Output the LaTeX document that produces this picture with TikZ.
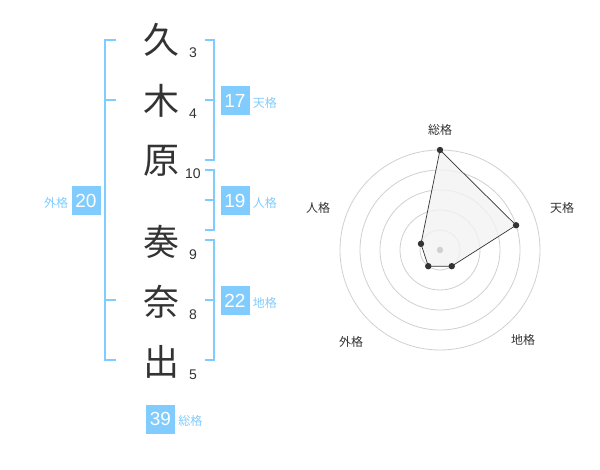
\documentclass[tikz,border=0pt]{standalone}
\usepackage{fontspec}
\setmainfont{Liberation Sans}
\newfontfamily\cjk{Noto Sans CJK JP}
\definecolor{kblue}{HTML}{80CCFF}
\definecolor{ktext}{HTML}{333333}
\definecolor{kring}{HTML}{D0D0D0}
\tikzset{
  bracket/.style={kblue, line width=2pt},
  kanji/.style={text=ktext, font=\cjk\fontsize{36}{36}\selectfont, inner sep=0pt},
  stroke/.style={text=ktext, font=\fontsize{14}{14}\selectfont, inner sep=0pt},
  scorebox/.style={fill=kblue, text=white, minimum size=29pt, inner sep=0pt, font=\fontsize{19}{19}\selectfont},
  tag/.style={text=kblue, font=\cjk\fontsize{12}{12}\selectfont, inner sep=3pt, yshift=-2pt},
  axislabel/.style={text=ktext, font=\cjk\fontsize{12}{12}\selectfont, inner sep=0pt}
}
\begin{document}
\begin{tikzpicture}[x=1pt, y=-1pt]
\useasboundingbox (0,0) rectangle (600,470);
% name and stroke counts
\foreach \ch/\y/\n/\k in {久/40/3/1, 木/101/4/2, 原/161/10/3, 奏/242/9/4, 奈/302/8/5, 出/362/5/6} {
  \node (c\k) [kanji] at (161,\y) {\ch};
  \node (n\k) [stroke] at (193,\y+13) {\n};
}
% brackets
\draw [bracket] (116,40) -| (105,360) -- (116,360);
\draw [bracket] (105,100) -- (116,100);
\draw [bracket] (105,300) -- (116,300);
\draw [bracket] (205,40) -| (214,160) -- (205,160);
\draw [bracket] (205,100) -- (214,100);
\draw [bracket] (205,170) -| (214,230) -- (205,230);
\draw [bracket] (205,200) -- (214,200);
\draw [bracket] (205,240) -| (214,360) -- (205,360);
\draw [bracket] (205,300) -- (214,300);
% scores
\node (b20) [scorebox] at (86,200.5) {20};
\node (l20) [tag, left] at (b20.west) {外格};
\node (b17) [scorebox] at (235,101) {17};
\node (l17) [tag, right] at (b17.east) {天格};
\node (b19) [scorebox] at (235,200.5) {19};
\node (l19) [tag, right] at (b19.east) {人格};
\node (b22) [scorebox] at (235,301) {22};
\node (l22) [tag, right] at (b22.east) {地格};
\node (b39) [scorebox] at (160.5,419) {39};
\node (l39) [tag, right] at (b39.east) {総格};
% radar chart
\begin{scope}[shift={(440,250)}, y=1pt]
  \foreach \r in {20,40,60,80,100}
    \draw [kring, line width=0.8pt] (0,0) circle (\r);
  \coordinate (p1) at (90:100);
  \coordinate (p2) at (18:80);
  \coordinate (p3) at (-54:20);
  \coordinate (p4) at (-126:20);
  \coordinate (p5) at (162:20);
  \filldraw [fill=black!5, fill opacity=0.8, draw=ktext, line width=0.7pt]
    (p1) -- (p2) -- (p3) -- (p4) -- (p5) -- cycle;
  \fill [kring] (0,0) circle (3.2);
  \foreach \p in {p1,p2,p3,p4,p5}
    \fill [ktext] (\p) circle (3.2);
  \node (a1) [axislabel] at (0,120) {総格};
  \node (a2) [axislabel] at (122,42) {天格};
  \node (a3) [axislabel] at (83,-90) {地格};
  \node (a4) [axislabel] at (-89,-92) {外格};
  \node (a5) [axislabel] at (-122,42) {人格};
\end{scope}
\end{tikzpicture}
\end{document}
